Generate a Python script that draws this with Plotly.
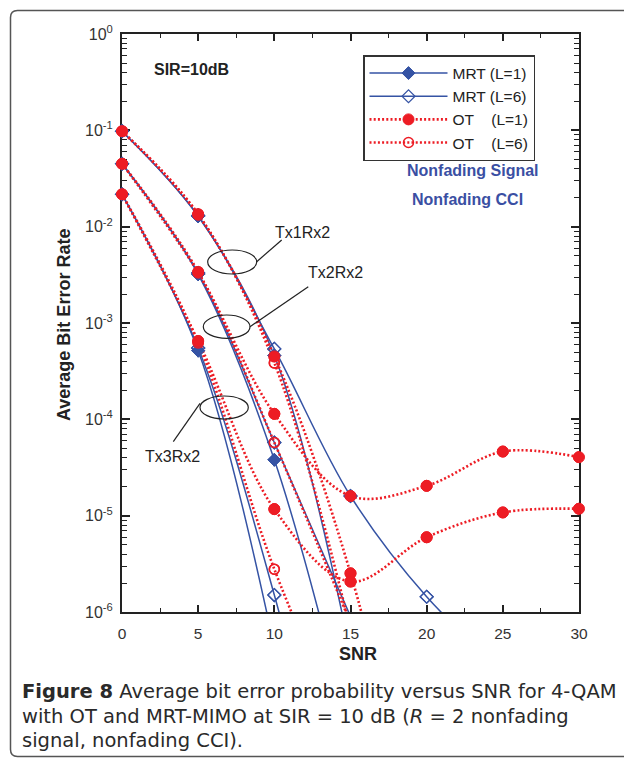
import plotly.graph_objects as go

# ---------------- data ----------------
snr = [0, 5, 10, 15, 20, 25, 30]

# Tx1Rx2
mrt1_tx1 = [0.098, 0.0128, 4.6e-4, 3.7e-7, None, None, None]
mrt6_tx1 = [0.098, 0.0130, 5.38e-4, 1.6e-5, 1.44e-6, 2.5e-7, None]
ot1_tx1 = [0.098, 0.0133, 4.5e-4, 2.52e-6, 1.3e-9, None, None]
ot6_tx1 = [0.098, 0.0135, 3.85e-4, 6.5e-7, None, None, None]
# Tx2Rx2
mrt1_tx2 = [0.045, 3.2e-3, 3.8e-5, 5e-8, None, None, None]
mrt6_tx2 = [0.045, 3.3e-3, 5.75e-5, 9e-7, None, None, None]
ot1_tx2 = [0.045, 3.33e-3, 1.14e-4, 1.6e-5, 2.04e-5, 4.63e-5, 4.05e-5]
ot6_tx2 = [0.045, 3.4e-3, 5.75e-5, 7.7e-7, None, None, None]
# Tx3Rx2
mrt1_tx3 = [0.0217, 5.16e-4, 4.3e-7, None, None, None, None]
mrt6_tx3 = [0.0217, 5.5e-4, 1.5e-6, 1e-9, None, None, None]
ot1_tx3 = [0.0217, 6.5e-4, 1.17e-5, 2.07e-6, 5.97e-6, 1.08e-5, 1.18e-5]
ot6_tx3 = [0.0217, 6.2e-4, 2.78e-6, 4e-8, None, None, None]

y_tickvals = [1e-6, 1e-5, 1e-4, 1e-3, 1e-2, 1e-1, 1]
y_ticktext = ["10<sup>-6</sup>", "10<sup>-5</sup>", "10<sup>-4</sup>", "10<sup>-3</sup>",
              "10<sup>-2</sup>", "10<sup>-1</sup>", "10<sup>0</sup>"]
x_tickvals = [0, 5, 10, 15, 20, 25, 30]

legend_names = {"mrt1": "MRT (L=1)", "mrt6": "MRT (L=6)",
                "ot1": "OT\u00a0\u00a0\u00a0\u00a0(L=1)", "ot6": "OT\u00a0\u00a0\u00a0\u00a0(L=6)"}

# ---------------- styles ----------------
BLUE = "#3553a4"
RED = "#ed1c24"
YMIN = 1e-6

styles = {
    "mrt1": dict(line=dict(color=BLUE, width=1.5),
                 marker=dict(symbol="diamond", size=10, color=BLUE, line=dict(color=BLUE, width=1))),
    "mrt6": dict(line=dict(color=BLUE, width=1.5),
                 marker=dict(symbol="diamond-open", size=10, color=BLUE, line=dict(color=BLUE, width=1.2))),
    "ot1": dict(line=dict(color=RED, width=2.6, dash="2px,2.2px"),
                marker=dict(symbol="circle", size=11, color=RED, line=dict(color=RED, width=1))),
    "ot6": dict(line=dict(color=RED, width=2.6, dash="2px,2.2px"),
                marker=dict(symbol="circle-open", size=10, color=RED, line=dict(color=RED, width=1.5))),
}
rank = {"mrt1": 1, "mrt6": 2, "ot1": 3, "ot6": 4}

series = [
    ("mrt1", mrt1_tx1), ("mrt1", mrt1_tx2), ("mrt1", mrt1_tx3),
    ("mrt6", mrt6_tx1), ("mrt6", mrt6_tx2), ("mrt6", mrt6_tx3),
    ("ot6", ot6_tx1), ("ot1", ot1_tx1),
    ("ot6", ot6_tx2), ("ot1", ot1_tx2),
    ("ot1", ot1_tx3), ("ot6", ot6_tx3),
]

fig = go.Figure()
shown = set()
for key, vals in series:
    st = styles[key]
    xs = [x for x, v in zip(snr, vals) if v is not None]
    ys = [v for v in vals if v is not None]
    fig.add_trace(go.Scatter(
        x=xs, y=ys, mode="lines+markers", line=dict(shape="spline", **st["line"]),
        marker=st["marker"], name=legend_names[key], legendgroup=key,
        showlegend=key not in shown, legendrank=rank[key], cliponaxis=True,
        hoverinfo="skip"))
    shown.add(key)

# markers overlay (in-range points, not clipped at axis edges)
for key, vals in series:
    st = styles[key]
    xs = [x for x, v in zip(snr, vals) if v is not None and v >= YMIN]
    ys = [v for v in vals if v is not None and v >= YMIN]
    fig.add_trace(go.Scatter(x=xs, y=ys, mode="markers", marker=st["marker"],
                             showlegend=False, cliponaxis=False, hoverinfo="skip"))

# ---------------- layout helpers (pixel -> paper) ----------------
L, R, T, B = 122, 579, 34, 612
def px(x):
    return (x - L) / (R - L)
def py(y):
    return (B - y) / (B - T)

AX = "#222222"
FAM = "Liberation Sans, Arial, sans-serif"
y_minor = [d * 10.0 ** k for k in range(-6, 0) for d in range(2, 10)]

fig.update_layout(
    width=624, height=759,
    margin=dict(l=L, r=624 - R, t=T, b=759 - B),
    paper_bgcolor="white", plot_bgcolor="white",
    showlegend=True,
    legend=dict(x=px(363), y=py(55), xanchor="left", yanchor="top",
                bgcolor="white", bordercolor="#333333", borderwidth=1.5,
                font=dict(family=FAM, size=15.5, color="#222222"),
                itemwidth=78, tracegroupgap=0),
    xaxis=dict(range=[0, 30], tickmode="linear", tick0=x_tickvals[0], dtick=5,
               ticks="inside", ticklen=7, tickwidth=2, tickcolor=AX,
               showline=True, linewidth=2, linecolor=AX, mirror="ticks",
               showgrid=False, zeroline=False, layer="below traces",
               minor=dict(tickmode="linear", tick0=0, dtick=2.5, ticks="inside", ticklen=4,
                          tickwidth=1, tickcolor=AX, showgrid=False),
               tickfont=dict(family=FAM, size=15.5, color="#333333"),
               ticklabelstandoff=6, automargin=False),
    yaxis=dict(type="log", range=[-6, 0], tickmode="array", tickvals=y_tickvals,
               ticktext=y_ticktext, ticks="inside", ticklen=8, tickwidth=2, tickcolor=AX,
               showline=True, linewidth=2, linecolor=AX, mirror="ticks",
               showgrid=False, zeroline=False, layer="below traces",
               minor=dict(tickmode="array", tickvals=y_minor, ticks="inside", ticklen=5,
                          tickwidth=1, tickcolor=AX, showgrid=False),
               tickfont=dict(family=FAM, size=16, color="#333333"),
               ticklabelstandoff=4, automargin=False),
)

ann_font = dict(family=FAM, size=16, color="#222222")
bold_font = dict(family=FAM, size=16, color="#222222")
title_font = dict(family=FAM, size=18, color="#222222")
blue_font = dict(family=FAM, size=16, color="#3a4fa3")
annotations = [
    dict(x=px(191), y=py(70), text="<b>SIR=10dB</b>", font=bold_font),
    dict(x=px(473), y=py(171), text="<b>Nonfading Signal</b>", font=blue_font),
    dict(x=px(467), y=py(199), text="<b>Nonfading CCI</b>", font=blue_font),
    dict(x=px(302), y=py(232), text="Tx1Rx2", font=ann_font),
    dict(x=px(335), y=py(272), text="Tx2Rx2", font=ann_font),
    dict(x=px(172), y=py(456), text="Tx3Rx2", font=ann_font),
    dict(x=px(64), y=py(325), text="<b>Average Bit Error Rate</b>", textangle=-90, font=title_font),
    dict(x=px(358), y=py(654), text="<b>SNR</b>", font=title_font),
]
cap_font = dict(family="DejaVu Sans", size=19.5, color="#2a2a2a")
cap_lines = [
    "<b>Figure 8</b> Average bit error probability versus SNR for 4-QAM",
    "with OT and MRT-MIMO at SIR = 10 dB (<i>R</i> = 2 nonfading",
    "signal, nonfading CCI).",
]
for i, line in enumerate(cap_lines):
    annotations.append(dict(x=px(20), y=py(692 + 24 * i), text=line, xanchor="left",
                            yanchor="middle", font=cap_font))
for a in annotations:
    a.setdefault("xref", "paper")
    a.setdefault("yref", "paper")
    a.setdefault("showarrow", False)
    a.setdefault("xanchor", "center")
    a.setdefault("yanchor", "middle")
fig.update_layout(annotations=annotations)

shapes = []
# ellipses
for (x0, x1, y0, y1) in [(207.7, 256.7, 250, 274), (203.3, 250, 315, 338.3), (200, 248.3, 396, 419)]:
    shapes.append(dict(type="circle", xref="paper", yref="paper", x0=px(x0), x1=px(x1),
                       y0=py(y1), y1=py(y0), line=dict(color="#222222", width=1.2)))
# leader lines
for (x0, y0, x1, y1) in [(256.7, 261.7, 281.7, 240), (250, 326.7, 308.3, 286.7), (200, 403.3, 173.3, 441.7)]:
    shapes.append(dict(type="line", xref="paper", yref="paper", x0=px(x0), y0=py(y0),
                       x1=px(x1), y1=py(y1), line=dict(color="#222222", width=1.2)))
# rounded frame around the whole figure
fx0, fy0, fx1, fy1, rr = 10.5, 10.5, 650, 756.5, 7
path = (f"M {px(fx1)},{py(fy0)} L {px(fx0 + rr)},{py(fy0)} Q {px(fx0)},{py(fy0)} {px(fx0)},{py(fy0 + rr)} "
        f"L {px(fx0)},{py(fy1 - rr)} Q {px(fx0)},{py(fy1)} {px(fx0 + rr)},{py(fy1)} L {px(fx1)},{py(fy1)}")
shapes.append(dict(type="path", xref="paper", yref="paper", path=path,
                   line=dict(color="#555555", width=1.5)))
fig.update_layout(shapes=shapes)

fig.write_html("out.html")
